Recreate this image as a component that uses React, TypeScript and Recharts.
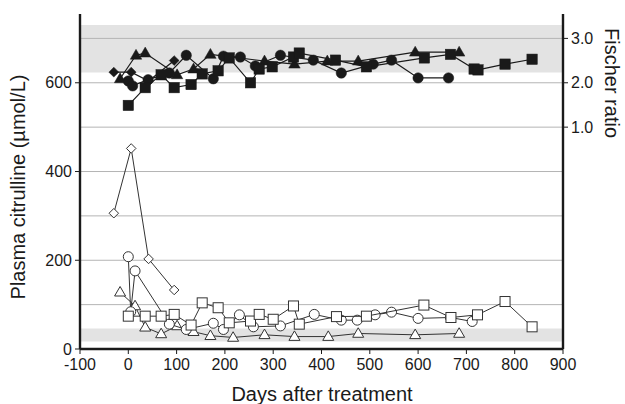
import React from 'react'
import {
  ComposedChart,
  Scatter,
  XAxis,
  YAxis,
  ReferenceArea,
  ReferenceLine,
} from 'recharts'

// citrulline (open markers, left axis)
const openDiamond = [
  { day: -30, v: 306 }, { day: 6, v: 452 }, { day: 42, v: 203 }, { day: 95, v: 133 },
]
const openCircle = [
  { day: 0, v: 208 }, { day: 5, v: 84 }, { day: 14, v: 176 }, { day: 85, v: 56 },
  { day: 120, v: 44 }, { day: 176, v: 58 }, { day: 197, v: 44 }, { day: 230, v: 77 },
  { day: 259, v: 50 }, { day: 315, v: 52 }, { day: 385, v: 78 }, { day: 441, v: 65 },
  { day: 474, v: 65 }, { day: 511, v: 77 }, { day: 545, v: 83 }, { day: 600, v: 69 },
  { day: 667, v: 71 }, { day: 712, v: 62 },
]
const openTriangle = [
  { day: -17, v: 128 }, { day: 14, v: 97 }, { day: 35, v: 49 }, { day: 68, v: 34 },
  { day: 101, v: 52 }, { day: 135, v: 39 }, { day: 170, v: 30 }, { day: 217, v: 26 },
  { day: 282, v: 32 }, { day: 344, v: 28 }, { day: 414, v: 28 }, { day: 476, v: 35 },
  { day: 594, v: 32 }, { day: 685, v: 35 },
]
const openSquare = [
  { day: 0, v: 74 }, { day: 35, v: 74 }, { day: 68, v: 74 }, { day: 95, v: 78 },
  { day: 130, v: 54 }, { day: 153, v: 104 }, { day: 186, v: 93 }, { day: 209, v: 59 },
  { day: 253, v: 63 }, { day: 271, v: 78 }, { day: 300, v: 67 }, { day: 342, v: 97 },
  { day: 354, v: 56 }, { day: 431, v: 73 }, { day: 493, v: 74 }, { day: 612, v: 99 },
  { day: 668, v: 71 }, { day: 723, v: 77 }, { day: 780, v: 107 }, { day: 836, v: 50 },
]

// Fischer ratio (filled markers, right axis)
const filledDiamond = [
  { day: -30, r: 2.24 }, { day: 6, r: 2.24 }, { day: 42, r: 2.04 }, { day: 95, r: 2.5 },
]
const filledCircle = [
  { day: 0, r: 2.04 }, { day: 9, r: 1.93 }, { day: 41, r: 2.07 }, { day: 85, r: 2.22 },
  { day: 120, r: 2.62 }, { day: 176, r: 2.09 }, { day: 197, r: 2.6 }, { day: 232, r: 2.58 },
  { day: 263, r: 2.38 }, { day: 315, r: 2.62 }, { day: 383, r: 2.51 }, { day: 441, r: 2.22 },
  { day: 507, r: 2.42 }, { day: 545, r: 2.51 }, { day: 600, r: 2.11 }, { day: 663, r: 2.11 },
]
const filledTriangle = [
  { day: -17, r: 2.09 }, { day: 16, r: 2.62 }, { day: 35, r: 2.67 }, { day: 101, r: 2.18 },
  { day: 135, r: 2.31 }, { day: 170, r: 2.64 }, { day: 282, r: 2.49 }, { day: 344, r: 2.42 },
  { day: 412, r: 2.49 }, { day: 476, r: 2.49 }, { day: 594, r: 2.69 }, { day: 685, r: 2.69 },
]
const filledSquare = [
  { day: 0, r: 1.49 }, { day: 35, r: 1.89 }, { day: 68, r: 2.18 }, { day: 95, r: 1.89 },
  { day: 130, r: 1.96 }, { day: 153, r: 2.2 }, { day: 186, r: 2.27 }, { day: 209, r: 2.56 },
  { day: 253, r: 2.0 }, { day: 271, r: 2.31 }, { day: 298, r: 2.36 }, { day: 342, r: 2.58 },
  { day: 354, r: 2.67 }, { day: 429, r: 2.51 }, { day: 493, r: 2.36 }, { day: 613, r: 2.56 },
  { day: 667, r: 2.64 }, { day: 716, r: 2.31 }, { day: 724, r: 2.29 }, { day: 780, r: 2.42 },
  { day: 836, r: 2.53 },
]

const xTicks = [-100, 0, 100, 200, 300, 400, 500, 600, 700, 800, 900]
const leftTicks = [0, 200, 400, 600]
const rightTicks = [1, 2, 3]
const gridValues = [100, 200, 300, 400, 500, 600, 700]
const ratioBand = [2.23, 3.3]
const citrullineBand = [17, 46]

const FONT = '"Liberation Sans", Arial, Helvetica, sans-serif'
const INK = '#1a1a1a'

type Kind = 'circle' | 'square' | 'triangle' | 'diamond'

const makeShape = (kind: Kind, filled: boolean) => (props: any) => {
  const { cx, cy } = props
  if (cx == null || cy == null) return <g />
  const fill = filled ? INK : '#fff'
  const stroke = filled ? INK : '#333'
  const sw = filled ? 0.5 : 1
  const s = filled ? 5.2 : 5
  if (kind === 'circle') {
    return <circle cx={cx} cy={cy} r={s} fill={fill} stroke={stroke} strokeWidth={sw} />
  }
  if (kind === 'square') {
    return <rect x={cx - s} y={cy - s} width={s * 2} height={s * 2} fill={fill} stroke={stroke} strokeWidth={sw} />
  }
  if (kind === 'triangle') {
    const h = s * 1.9
    const pts = `${cx},${cy - h * 0.6} ${cx + s * 1.1},${cy + h * 0.4} ${cx - s * 1.1},${cy + h * 0.4}`
    return <polygon points={pts} fill={fill} stroke={stroke} strokeWidth={sw} />
  }
  const d = s * 0.95
  const pts = `${cx},${cy - d} ${cx + d},${cy} ${cx},${cy + d} ${cx - d},${cy}`
  return <polygon points={pts} fill={fill} stroke={stroke} strokeWidth={sw} />
}

const tickStyle = { fontSize: 16, fill: INK, fontFamily: FONT }

export default function App() {
  return (
    <div style={{ position: 'absolute', left: 0, top: 0, background: '#fff' }}>
      <ComposedChart
        width={625}
        height={404}
        margin={{ top: 14, right: 0, bottom: 0, left: 0 }}
        style={{ fontFamily: FONT }}
      >
        <XAxis
          type="number"
          dataKey="day"
          domain={[-100, 900]}
          ticks={xTicks}
          interval={0}
          allowDuplicatedCategory={false}
          height={55}
          tick={tickStyle}
          tickSize={5}
          tickMargin={5}
          tickLine={{ stroke: INK }}
          axisLine={{ stroke: INK, strokeWidth: 2.4 }}
          label={() => (
            <text x={322} y={394} textAnchor="middle" dominantBaseline="central" fontSize={20} fontFamily={FONT} fill={INK}>
              Days after treatment
            </text>
          )}
        />
        <YAxis
          yAxisId="l"
          type="number"
          domain={[0, 755]}
          ticks={leftTicks}
          interval={0}
          width={80}
          tick={tickStyle}
          tickSize={5}
          tickMargin={3}
          tickLine={{ stroke: INK }}
          axisLine={{ stroke: INK, strokeWidth: 2.4 }}
          label={() => (
            <text
              x={18}
              y={187}
              transform="rotate(-90 18 187)"
              textAnchor="middle"
              dominantBaseline="central"
              fontSize={20}
              fontFamily={FONT}
              fill={INK}
            >
              Plasma citrulline (µmol/L)
            </text>
          )}
        />
        <YAxis
          yAxisId="r"
          orientation="right"
          type="number"
          domain={[-4, 3.55]}
          ticks={rightTicks}
          interval={0}
          width={62}
          tick={tickStyle}
          tickFormatter={(t: number) => t.toFixed(1)}
          tickSize={5}
          tickMargin={3}
          tickLine={{ stroke: INK }}
          axisLine={{ stroke: INK, strokeWidth: 2.4 }}
          label={() => (
            <text
              x={612}
              y={28}
              transform="rotate(90 612 28)"
              textAnchor="start"
              dominantBaseline="central"
              fontSize={20}
              fontFamily={FONT}
              fill={INK}
            >
              Fischer ratio
            </text>
          )}
        />

        <ReferenceArea yAxisId="r" y1={ratioBand[0]} y2={ratioBand[1]} fill="#e3e3e3" fillOpacity={1} stroke="none" />
        <ReferenceArea yAxisId="l" y1={citrullineBand[0]} y2={citrullineBand[1]} fill="#e3e3e3" fillOpacity={1} stroke="none" />
        {gridValues.map((g) => (
          <ReferenceLine key={g} yAxisId="l" y={g} stroke="#b4b4b4" strokeWidth={1} />
        ))}

        <Scatter yAxisId="l" data={openDiamond} dataKey="v" line={{ stroke: '#333', strokeWidth: 1 }} shape={makeShape('diamond', false)} isAnimationActive={false} />
        <Scatter yAxisId="l" data={openTriangle} dataKey="v" line={{ stroke: '#333', strokeWidth: 1 }} shape={makeShape('triangle', false)} isAnimationActive={false} />
        <Scatter yAxisId="l" data={openCircle} dataKey="v" line={{ stroke: '#333', strokeWidth: 1 }} shape={makeShape('circle', false)} isAnimationActive={false} />
        <Scatter yAxisId="l" data={openSquare} dataKey="v" line={{ stroke: '#333', strokeWidth: 1 }} shape={makeShape('square', false)} isAnimationActive={false} />

        <Scatter yAxisId="r" data={filledDiamond} dataKey="r" line={{ stroke: INK, strokeWidth: 1.2 }} shape={makeShape('diamond', true)} isAnimationActive={false} />
        <Scatter yAxisId="r" data={filledTriangle} dataKey="r" line={{ stroke: INK, strokeWidth: 1.2 }} shape={makeShape('triangle', true)} isAnimationActive={false} />
        <Scatter yAxisId="r" data={filledCircle} dataKey="r" line={{ stroke: INK, strokeWidth: 1.2 }} shape={makeShape('circle', true)} isAnimationActive={false} />
        <Scatter yAxisId="r" data={filledSquare} dataKey="r" line={{ stroke: INK, strokeWidth: 1.2 }} shape={makeShape('square', true)} isAnimationActive={false} />
      </ComposedChart>
    </div>
  )
}
